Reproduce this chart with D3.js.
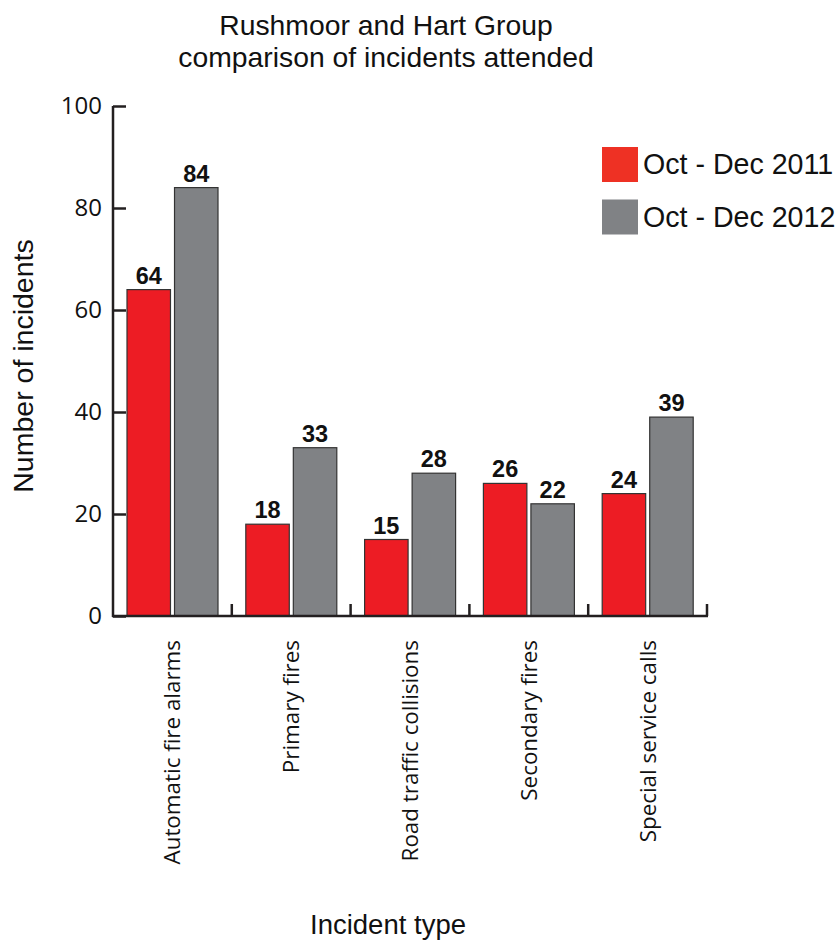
<!DOCTYPE html>
<html><head><meta charset="utf-8">
<script src="https://cdn.jsdelivr.net/npm/d3@7"></script>
<style>body{margin:0;background:#fff}svg{display:block}</style>
</head><body>
<svg id="c" width="840" height="945"></svg>
<script>
const categories = ["Automatic fire alarms","Primary fires","Road traffic collisions","Secondary fires","Special service calls"];
const seriesNames = ["Oct - Dec 2011","Oct - Dec 2012"];
const values2011 = [64,18,15,26,24];
const values2012 = [84,33,28,22,39];
const yTicks = [0,20,40,60,80,100];
const titleLines = ["Rushmoor and Hart Group","comparison of incidents attended"];
const barColors = ["#ED1C24","#808285"];
const legendColors = ["#EE3124","#808285"];

const svg = d3.select("#c");
const axisCol = "#231F20";
const x0 = d3.scaleBand().domain(categories).range([113,707]).paddingInner(0).paddingOuter(0);
const x1 = d3.scaleBand().domain([0,1]).range([14,105]).paddingInner(0.085).paddingOuter(0);
const y = d3.scaleLinear().domain([0,100]).range([616,106]);

// title
svg.append("g").selectAll("text").data(titleLines).join("text")
  .attr("x",386).attr("y",(d,i)=>35+i*32).attr("text-anchor","middle")
  .attr("font-family","Liberation Sans, Arial, sans-serif").attr("font-size",28.3).attr("fill","#111").text(d=>d);

// bars
const series = [values2011, values2012];
const g = svg.append("g");
categories.forEach((c,ci)=>{
  series.forEach((vals,si)=>{
    const v = vals[ci];
    const bx = x0(c)+x1(si);
    g.append("rect").attr("x",bx).attr("y",y(v)).attr("width",x1.bandwidth()).attr("height",y(0)-y(v))
      .attr("fill",barColors[si]).attr("stroke","#333").attr("stroke-width",1.2);
    g.append("text").attr("x",bx+x1.bandwidth()/2).attr("y",y(v)-6).attr("text-anchor","middle")
      .attr("font-family","Liberation Sans, Arial, sans-serif").attr("font-weight","bold").attr("font-size",23.5)
      .attr("fill","#111").text(v);
  });
});

// y axis
const yAxis = d3.axisRight(y).tickValues(yTicks).tickSize(13).tickFormat("");
const ya = svg.append("g").attr("transform","translate(113,0)").call(yAxis);
ya.select(".domain").attr("d","M0,106V617").attr("stroke",axisCol).attr("stroke-width",2.5);
ya.selectAll(".tick line").attr("stroke",axisCol).attr("stroke-width",2.5);
svg.append("g").selectAll("text").data(yTicks).join("text")
  .attr("x",102).attr("y",d=>y(d)+8).attr("text-anchor","end")
  .attr("font-family","Open Sans, sans-serif").attr("font-size",24).attr("fill","#111").text(d=>d);

// x axis
svg.append("line").attr("x1",112).attr("x2",708).attr("y1",616).attr("y2",616).attr("stroke",axisCol).attr("stroke-width",2.5);
const bounds = categories.map(c=>x0(c)+x0.bandwidth());
svg.append("g").selectAll("line").data(bounds).join("line")
  .attr("x1",d=>d).attr("x2",d=>d).attr("y1",616).attr("y2",604).attr("stroke",axisCol).attr("stroke-width",2.5);
svg.append("g").selectAll("text").data(categories).join("text")
  .attr("transform",d=>`translate(${x0(d)+x0.bandwidth()/2+8},640) rotate(-90)`)
  .attr("text-anchor","end")
  .attr("font-family","Open Sans, sans-serif").attr("font-size",22.4).attr("fill","#111").text(d=>d);

// axis titles
svg.append("text").attr("transform","translate(33,366) rotate(-90)").attr("text-anchor","middle")
  .attr("font-family","Liberation Sans, Arial, sans-serif").attr("font-size",28.5).attr("fill","#111").text("Number of incidents");
svg.append("text").attr("x",388).attr("y",934).attr("text-anchor","middle")
  .attr("font-family","Liberation Sans, Arial, sans-serif").attr("font-size",27.5).attr("fill","#111").text("Incident type");

// legend
const lg = svg.append("g");
seriesNames.forEach((s,i)=>{
  lg.append("rect").attr("x",602).attr("y",147+i*52.5).attr("width",36).attr("height",35).attr("fill",legendColors[i]);
  lg.append("text").attr("x",643).attr("y",174+i*53).attr("font-family","Liberation Sans, Arial, sans-serif")
    .attr("font-size",28.6).attr("fill","#111").text(s);
});
</script>
</body></html>
